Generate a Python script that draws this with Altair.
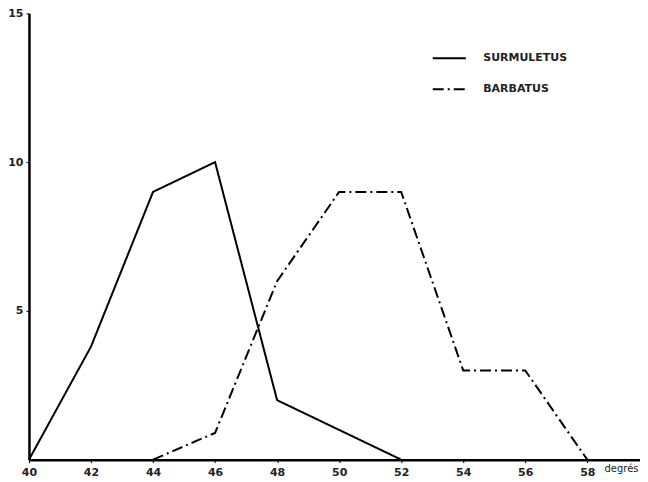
import altair as alt
import pandas as pd

# Data
degrees = [40, 42, 44, 46, 48, 50, 52, 54, 56, 58]
surmuletus = [0, 3.8, 9, 10, 2, 1, 0, None, None, None]
barbatus = [None, None, 0, 0.9, 6, 9, 9, 3, 3, 0]
series_names = ["SURMULETUS", "BARBATUS"]
x_ticks = [40, 42, 44, 46, 48, 50, 52, 54, 56, 58]
y_ticks = [5, 10, 15]

rows = []
for d, s, b in zip(degrees, surmuletus, barbatus):
    if s is not None:
        rows.append({"deg": d, "n": s, "espece": series_names[0]})
    if b is not None:
        rows.append({"deg": d, "n": b, "espece": series_names[1]})
df = pd.DataFrame(rows)

FONT = "DejaVu Sans"

chart = alt.Chart(df).mark_line(color="black", strokeWidth=2).encode(
    x=alt.X("deg:Q",
            scale=alt.Scale(domain=[40, 59.7], nice=False, zero=False),
            axis=alt.Axis(values=x_ticks, title="degrés", grid=False,
                          domainColor="black", domainWidth=2.5,
                          tickColor="black", tickSize=3, tickWidth=1,
                          labelFont=FONT, labelFontWeight="bold", labelFontSize=11,
                          labelColor="#222", labelPadding=4,
                          titleFont=FONT, titleFontSize=10, titleFontWeight="normal",
                          titleColor="#222",
                          titleX=593, titleY=9, titleAlign="center",
                          titleBaseline="middle", labelFlush=False)),
    y=alt.Y("n:Q",
            scale=alt.Scale(domain=[0, 15], nice=False),
            axis=alt.Axis(values=y_ticks, title=None, grid=False,
                          domainColor="black", domainWidth=2.5,
                          tickColor="black", tickSize=3, tickWidth=1,
                          labelFont=FONT, labelFontWeight="bold", labelFontSize=11,
                          labelColor="#222", labelPadding=3)),
    strokeDash=alt.StrokeDash("espece:N",
        scale=alt.Scale(domain=series_names, range=[[1, 0], [11, 4, 2, 4]]),
        sort=series_names,
        legend=alt.Legend(title=None, orient="none", legendX=403, legendY=27,
                          symbolType="stroke", symbolSize=1100,
                          symbolStrokeColor="black", symbolStrokeWidth=2,
                          labelFont=FONT, labelFontWeight="bold", labelFontSize=11,
                          labelColor="#222", labelOffset=16, rowPadding=8)),
    order="deg:Q",
).properties(
    width=612, height=447,
    autosize=alt.AutoSizeParams(type="none"),
    padding={"left": 21, "top": 5, "right": 0, "bottom": 20},
    background="white",
).configure_view(stroke=None)

chart.save("out.html", embed_options={"renderer": "svg", "actions": False})
